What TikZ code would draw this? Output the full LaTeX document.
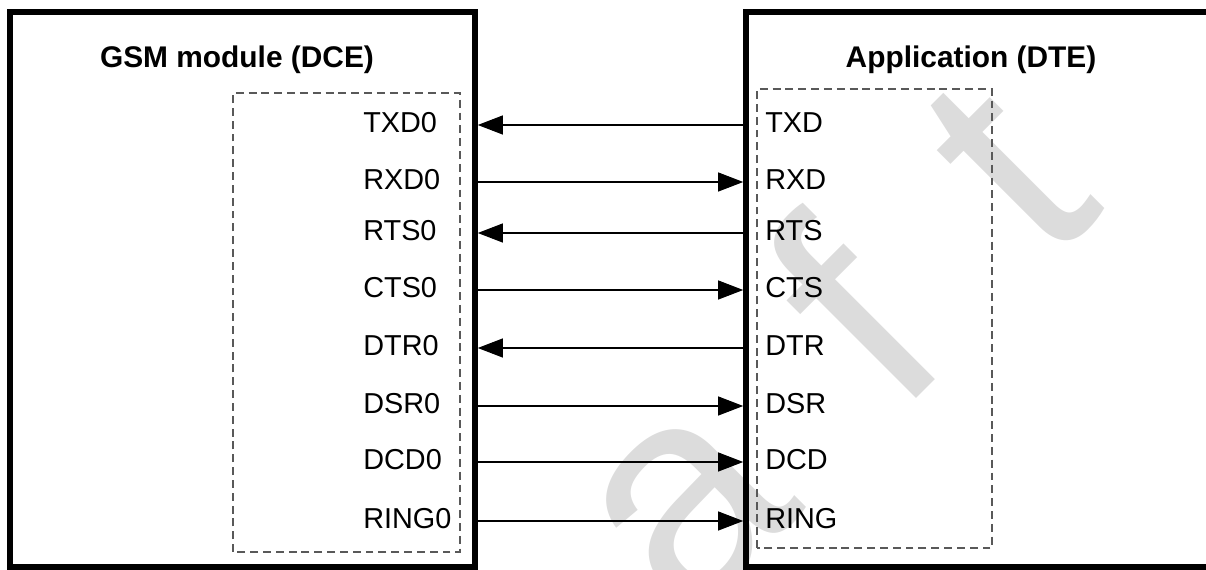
\documentclass[tikz,border=0pt]{standalone}
\usepackage{fontspec}
\setmainfont{Liberation Sans}
\newfontfamily\wmfont[LetterSpace=42]{Liberation Sans}
\usetikzlibrary{arrows.meta}
\definecolor{wmgray}{HTML}{DCDCDC}

\begin{document}
\begin{tikzpicture}[
        box/.style={draw=black, line width=3.2pt, minimum height=11.1cm, inner sep=0pt},
        frame/.style={draw=black!65, line width=0.6pt, dash pattern=on 4.5pt off 2.8pt},
        title/.style={font=\fontsize{17}{20}\selectfont\bfseries, anchor=base, inner sep=0pt},
        pin/.style={font=\fontsize{16.4}{19}\selectfont, anchor=west, inner sep=0pt, text height=0.42cm, text depth=0.13cm},
        sig/.style={draw=black, line width=0.6pt, -{Triangle[length=0.5cm, width=0.38cm]}}
    ]
        \useasboundingbox (0, 0) rectangle (24.12, 11.4);
        \begin{scope}
            \clip (0, 0) rectangle (24.12, 11.4);
            % watermark behind everything
            \node[anchor=base west, inner sep=0pt, rotate=45, text=wmgray, font=\wmfont\fontsize{173}{173}\selectfont] (draft) at (5.61, -9.29) {Draft};
            \node[box, minimum width=9.3cm] (dce) at (4.85, 5.61) {};
            \node[box, minimum width=10.08cm] (dte) at (19.96, 5.61) {};
        \end{scope}

        \node[title] (dcetitle) at (4.74, 10.04) {GSM module (DCE)};
        \node[title] (dtetitle) at (19.42, 10.04) {Application (DTE)};

        \draw[frame] (4.66, 0.36) rectangle (9.2, 9.54);
        \draw[frame] (15.14, 0.44) rectangle (19.84, 9.62);

        % module side
        \node[pin] (txd0) at (7.26, 8.90) {TXD0};
        \node[pin] (rxd0) at (7.26, 7.76) {RXD0};
        \node[pin] (rts0) at (7.26, 6.74) {RTS0};
        \node[pin] (cts0) at (7.26, 5.60) {CTS0};
        \node[pin] (dtr0) at (7.26, 4.44) {DTR0};
        \node[pin] (dsr0) at (7.26, 3.28) {DSR0};
        \node[pin] (dcd0) at (7.26, 2.16) {DCD0};
        \node[pin] (ring0) at (7.26, 0.98) {RING0};

        % application side
        \node[pin] (txd) at (15.30, 8.90) {TXD};
        \node[pin] (rxd) at (15.30, 7.76) {RXD};
        \node[pin] (rts) at (15.30, 6.74) {RTS};
        \node[pin] (cts) at (15.30, 5.60) {CTS};
        \node[pin] (dtr) at (15.30, 4.44) {DTR};
        \node[pin] (dsr) at (15.30, 3.28) {DSR};
        \node[pin] (dcd) at (15.30, 2.16) {DCD};
        \node[pin] (ring) at (15.30, 0.98) {RING};

        \draw[sig] (txd -| dte.west) -- (txd0 -| dce.east);
        \draw[sig] (rxd0 -| dce.east) -- (rxd -| dte.west);
        \draw[sig] (rts -| dte.west) -- (rts0 -| dce.east);
        \draw[sig] (cts0 -| dce.east) -- (cts -| dte.west);
        \draw[sig] (dtr -| dte.west) -- (dtr0 -| dce.east);
        \draw[sig] (dsr0 -| dce.east) -- (dsr -| dte.west);
        \draw[sig] (dcd0 -| dce.east) -- (dcd -| dte.west);
        \draw[sig] (ring0 -| dce.east) -- (ring -| dte.west);
    \end{tikzpicture}
\end{document}
